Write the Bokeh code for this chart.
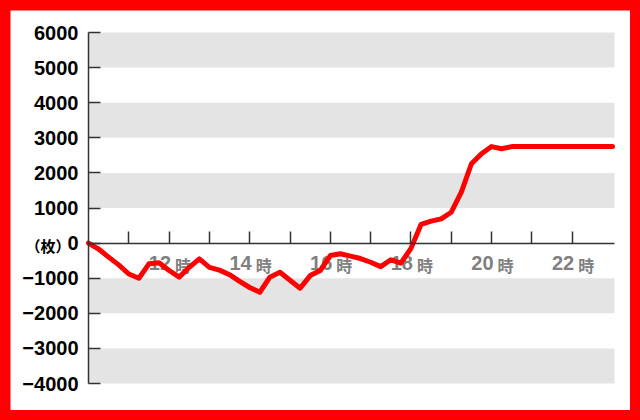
import numpy as np
from bokeh.plotting import figure
from bokeh.models import Range1d, LinearAxis, FixedTicker, BoxAnnotation, ColumnDataSource
from bokeh.core.properties import value
from bokeh.embed import file_html
from bokeh.resources import INLINE

# ---- data ----
times = np.arange(10, 23.001, 0.25)  # quarter-hour samples 10:00 .. 23:00
balance = [
    0, -170, -400, -620, -880, -1000, -590, -560,
    -780, -970, -690, -450, -690, -770, -900, -1090,
    -1265, -1400, -970, -830, -1060, -1285, -925, -780,
    -355, -305, -370, -440, -545, -670, -475, -570,
    -150, 530, 625, 690, 880, 1450, 2260, 2545,
    2750, 2690, 2750, 2750, 2750, 2750, 2750, 2750,
    2750, 2750, 2750, 2750, 2750,
]
y_ticks = [-4000, -3000, -2000, -1000, 0, 1000, 2000, 3000, 4000, 5000, 6000]
x_ticks = [11, 12, 13, 14, 15, 16, 17, 18, 19, 20, 21, 22]
x_label_hours = [12, 14, 16, 18, 20, 22]
hour_unit = "時"
y_unit = "（枚）"
bands = [(5000, 6000), (3000, 4000), (1000, 2000), (-2000, -1000), (-4000, -3000)]

X0, X1 = 10, 23.05      # plotted hour span
Y0, Y1 = -4000, 6000    # plotted value span
W, H = 620, 400
pad_l, pad_r, pad_t, pad_b = 78, 16, 22, 27
px_x = (W - pad_l - pad_r) / (X1 - X0)
px_y = (H - pad_t - pad_b) / (Y1 - Y0)

p = figure(width=W, height=H, output_backend="svg", toolbar_location=None,
           x_range=Range1d(X0 - pad_l / px_x, X1 + pad_r / px_x),
           y_range=Range1d(Y0 - pad_b / px_y, Y1 + pad_t / px_y),
           x_axis_location=None, y_axis_location=None,
           min_border=0, background_fill_color="white", border_fill_color="white",
           outline_line_color=None)
p.xgrid.visible = False
p.ygrid.visible = False

for lo, hi in bands:
    p.add_layout(BoxAnnotation(left=X0, right=X1, bottom=lo, top=hi, fill_color="#e4e4e4",
                               fill_alpha=1, line_color=None, level="underlay"))

yaxis = LinearAxis(fixed_location=X0, bounds=(Y0, Y1), ticker=FixedTicker(ticks=y_ticks),
                   major_tick_in=12, major_tick_out=0,
                   minor_tick_line_color=None, axis_line_color="#333333", axis_line_width=1.5,
                   major_tick_line_color="#333333", major_tick_line_width=1.5,
                   major_label_standoff=10, major_label_text_font="Liberation Sans",
                   major_label_text_font_style="bold", major_label_text_font_size="20px",
                   major_label_text_color="black")
p.add_layout(yaxis, "left")

xaxis = LinearAxis(fixed_location=0, bounds=(X0, X1), ticker=FixedTicker(ticks=x_ticks),
                   major_tick_in=12, major_tick_out=0, minor_tick_line_color=None,
                   axis_line_color="#333333", axis_line_width=1.5,
                   major_tick_line_color="#333333", major_tick_line_width=1.5,
                   major_label_overrides={t: "" for t in x_ticks}, major_label_text_font_size="1px",
                   major_label_standoff=0)
p.add_layout(xaxis, "below")

src = ColumnDataSource(dict(x=x_label_hours, y=[0] * len(x_label_hours),
                            num=[str(h) for h in x_label_hours],
                            unit=[hour_unit] * len(x_label_hours)))
p.text(x="x", y="y", text="num", source=src, text_font=value("Liberation Sans"),
       text_font_style="bold", text_font_size="20px", text_color="#808080",
       text_align="right", text_baseline="alphabetic", x_offset=2, y_offset=20)
p.text(x="x", y="y", text="unit", source=src, text_font=value("Noto Sans CJK JP"),
       text_font_style="bold", text_font_size="16px", text_color="#808080",
       text_align="left", text_baseline="alphabetic", x_offset=6, y_offset=22)

# unit marker left of the "0" tick label
p.text(x=[X0], y=[0], text=[y_unit], text_font=value("Noto Sans CJK JP"),
       text_font_style="bold", text_font_size="15px", text_color="black",
       text_align="right", text_baseline="middle", x_offset=-18, y_offset=2)

p.line(times, balance, line_color="#ff0000", line_width=5, line_join="round",
       line_cap="round")

html = file_html(p, INLINE)
html = html.replace("</head>", "<style>body{margin:10px;background:#ff0000;}</style></head>", 1)
open("out.html", "w").write(html)
